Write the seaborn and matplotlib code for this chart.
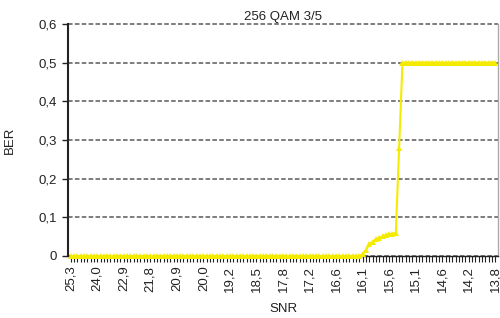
import matplotlib
matplotlib.use("Agg")
import matplotlib.pyplot as plt
import numpy as np
import pandas as pd
import seaborn as sns

# SNR labels shown on the category axis (every 8th point)
snr_labels = ["25,3", "24,0", "22,9", "21,8", "20,9", "20,0", "19,2", "18,5", "17,8",
              "17,2", "16,6", "16,1", "15,6", "15,1", "14,6", "14,2", "13,8"]
label_step = 8

# BER per SNR step (129 points)
ber = [
    0.0, 0.0, 0.0, 0.0, 0.0, 0.0, 0.0, 0.0, 0.0, 0.0, 0.0, 0.0, 0.0, 0.0, 0.0, 0.0,
    0.0, 0.0, 0.0, 0.0, 0.0, 0.0, 0.0, 0.0, 0.0, 0.0, 0.0, 0.0, 0.0, 0.0, 0.0, 0.0,
    0.0, 0.0, 0.0, 0.0, 0.0, 0.0, 0.0, 0.0, 0.0, 0.0, 0.0, 0.0, 0.0, 0.0, 0.0, 0.0,
    0.0, 0.0, 0.0, 0.0, 0.0, 0.0, 0.0, 0.0, 0.0, 0.0, 0.0, 0.0, 0.0, 0.0, 0.0, 0.0,
    0.0, 0.0, 0.0, 0.0, 0.0, 0.0, 0.0, 0.0, 0.0, 0.0, 0.0, 0.0, 0.0, 0.0, 0.0, 0.0,
    0.0, 0.0, 0.0, 0.0, 0.0, 0.0, 0.0, 0.0,
    0.005, 0.015, 0.030, 0.037, 0.043, 0.047, 0.051, 0.054, 0.056, 0.058, 0.059,
    0.28,
    0.5, 0.5, 0.5, 0.5, 0.5, 0.5, 0.5, 0.5, 0.5, 0.5, 0.5, 0.5, 0.5, 0.5, 0.5, 0.5,
    0.5, 0.5, 0.5, 0.5, 0.5, 0.5, 0.5, 0.5, 0.5, 0.5, 0.5, 0.5, 0.5,
]
y_ticks = [0, 0.1, 0.2, 0.3, 0.4, 0.5, 0.6]
y_tick_labels = ["0", "0,1", "0,2", "0,3", "0,4", "0,5", "0,6"]

sns.set_theme(style="white")
plt.rcParams["font.family"] = ["Liberation Sans", "DejaVu Sans"]

df = pd.DataFrame({"step": np.arange(len(ber)), "BER": ber})

fig = plt.figure(figsize=(5.0, 3.18), dpi=100)
ax = fig.add_axes([0.136, 0.195, 0.86, 0.73])

sns.lineplot(data=df, x="step", y="BER", ax=ax, color="#f5eb00", linewidth=1.5,
             marker="^", markersize=4, markeredgewidth=0, zorder=5, clip_on=False)

ax.set_xlim(-0.8, len(ber) - 0.2)
ax.set_ylim(0, 0.6)
ax.set_yticks(y_ticks)
ax.set_yticklabels(y_tick_labels, fontsize=9.5, color="#222222")
ax.set_xticks(np.arange(len(ber)), minor=True)
ax.set_xticks(np.arange(0, len(ber), label_step))
ax.set_xticklabels(snr_labels, rotation=90, fontsize=9.5, color="#222222")
ax.tick_params(axis="x", which="both", direction="out", length=4, width=0.8,
               color="#222222", bottom=True, pad=3)
ax.tick_params(axis="y", direction="out", length=4, width=1, color="#222222", left=True, pad=4)

ax.yaxis.grid(True, linestyle=(0, (3, 1.5)), color="#5a5a5a", linewidth=1.1)
for gl in ax.get_ygridlines():
    gl.set_clip_on(False)
ax.set_axisbelow(True)

ax.spines["top"].set_visible(False)
ax.spines["left"].set_color("#222222")
ax.spines["left"].set_linewidth(1.5)
ax.spines["bottom"].set_color("#222222")
ax.spines["bottom"].set_linewidth(1.0)
ax.spines["right"].set_color("#aaaaaa")
ax.spines["right"].set_linewidth(1.0)

ax.set_title("256 QAM 3/5", fontsize=9.5, color="#222222", pad=3)
ax.set_xlabel("SNR", fontsize=9.5, color="#222222", labelpad=8)
ax.set_ylabel("BER", fontsize=9.5, color="#222222", labelpad=16)

fig.savefig("out.png", dpi=100)
